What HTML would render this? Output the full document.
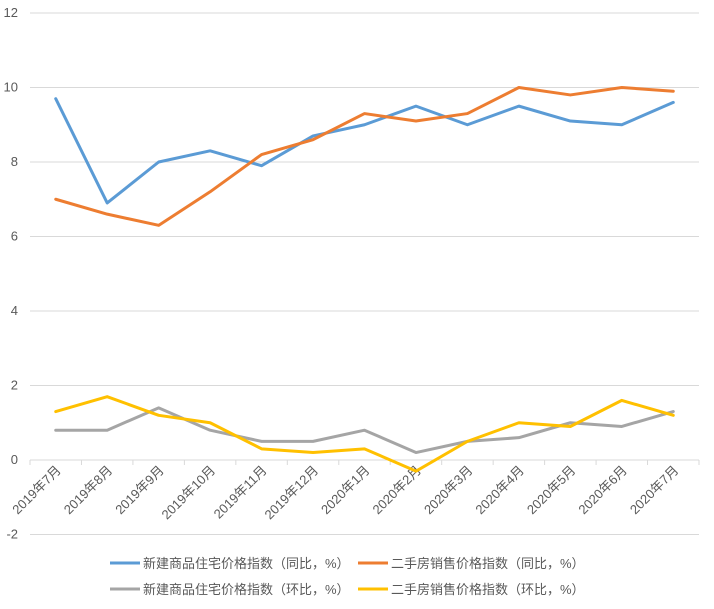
<!DOCTYPE html>
<html><head><meta charset="utf-8"><style>
body{margin:0;background:#fff;}
svg text{font-family:"Liberation Sans","Noto Sans CJK SC",sans-serif;fill:#595959;}
</style></head><body>
<svg id="chart" width="714" height="604" xmlns="http://www.w3.org/2000/svg"></svg>
<script>
const categories=["2019年7月","2019年8月","2019年9月","2019年10月","2019年11月","2019年12月","2020年1月","2020年2月","2020年3月","2020年4月","2020年5月","2020年6月","2020年7月"];
const newYoY=[9.7,6.9,8.0,8.3,7.9,8.7,9.0,9.5,9.0,9.5,9.1,9.0,9.6];
const usedYoY=[7.0,6.6,6.3,7.2,8.2,8.6,9.3,9.1,9.3,10.0,9.8,10.0,9.9];
const newMoM=[0.8,0.8,1.4,0.8,0.5,0.5,0.8,0.2,0.5,0.6,1.0,0.9,1.3];
const usedMoM=[1.3,1.7,1.2,1.0,0.3,0.2,0.3,-0.3,0.5,1.0,0.9,1.6,1.2];
const yTicks=[-2,0,2,4,6,8,10,12];
const seriesNames=["新建商品住宅价格指数（同比，%）","二手房销售价格指数（同比，%）","新建商品住宅价格指数（环比，%）","二手房销售价格指数（环比，%）"];
const svg=document.getElementById('chart');
const NS="http://www.w3.org/2000/svg";
const x0=30,x1=699,yZero=460,unit=37.25;
const bw=(x1-x0)/categories.length;
const X=i=>x0+bw*(i+0.5);
const Y=v=>yZero-v*unit;
function mk(t,a,txt){const e=document.createElementNS(NS,t);for(const k in a)e.setAttribute(k,a[k]);if(txt!==undefined)e.textContent=txt;svg.appendChild(e);return e;}
yTicks.forEach(v=>{
  if(v!==0){const g=mk('line',{x1:x0,x2:x1,y1:Y(v),y2:Y(v),stroke:'#d9d9d9','stroke-width':1});
  
  }
  const t=mk('text',{x:18,y:Y(v)+4,'font-size':13,'text-anchor':'end'},String(v));
  
  
});
const ax=mk('line',{x1:x0,x2:x1,y1:yZero,y2:yZero,stroke:'#d9d9d9','stroke-width':1});


for(let i=0;i<=categories.length;i++){
  const tk=mk('line',{x1:x0+bw*i,x2:x0+bw*i,y1:yZero,y2:yZero+5,stroke:'#d9d9d9'});
  
  
}
categories.forEach((c,i)=>{
  const t=mk('text',{x:X(i)+6,y:yZero+11,'font-size':13,'text-anchor':'end',transform:`rotate(-45 ${X(i)+6} ${yZero+11})`},c);
  
  
});
const series=[[newYoY,'#5b9bd5','series-new-yoy'],[usedYoY,'#ed7d31','series-used-yoy'],[newMoM,'#a5a5a5','series-new-mom'],[usedMoM,'#ffc000','series-used-mom']];
series.forEach(([d,col,nm])=>{
  const p=mk('polyline',{points:d.map((v,i)=>X(i)+','+Y(v)).join(' '),fill:'none',stroke:col,'stroke-width':3,'stroke-linejoin':'round','stroke-linecap':'round'});
  
  
});
const lpos=[[110,563],[358,563],[110,589],[358,589]];
series.forEach(([d,col],k)=>{
  const l=mk('line',{x1:lpos[k][0],x2:lpos[k][0]+30,y1:lpos[k][1],y2:lpos[k][1],stroke:col,'stroke-width':3});
  
  
  const t=mk('text',{x:lpos[k][0]+33,y:lpos[k][1]+5,'font-size':13},seriesNames[k]);
  
  
});
</script>
</body></html>
